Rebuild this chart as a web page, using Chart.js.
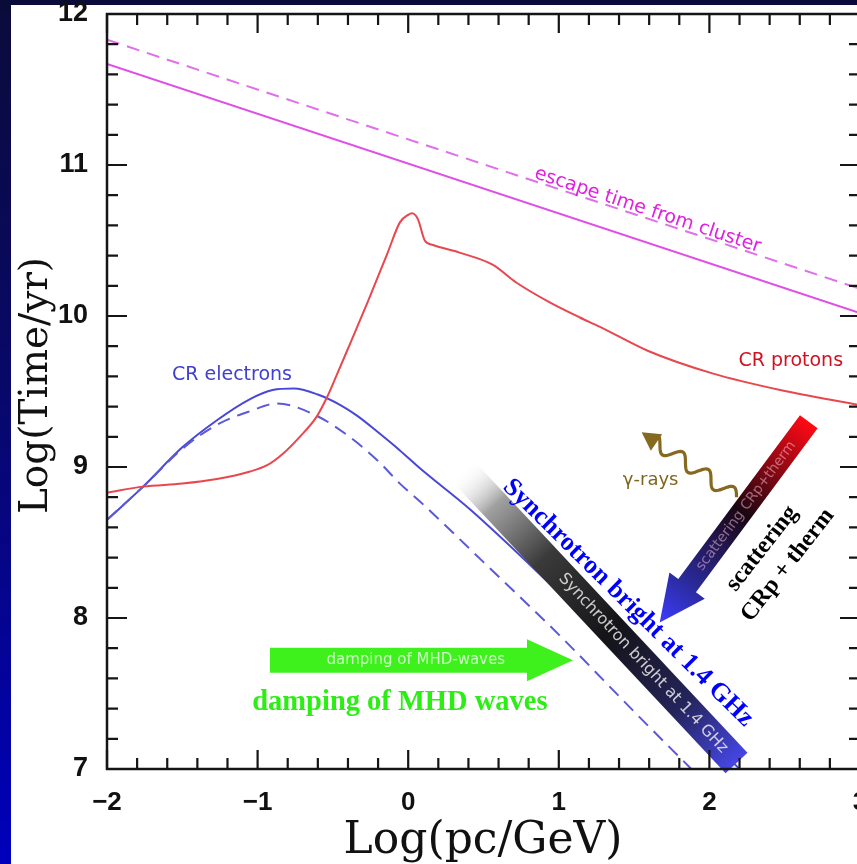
<!DOCTYPE html>
<html>
<head>
<meta charset="utf-8">
<script src="https://cdn.jsdelivr.net/npm/chart.js@4.4.1/dist/chart.umd.min.js"></script>
<style>
  html, body { margin: 0; padding: 0; overflow: hidden; }
  body {
    width: 857px; height: 864px;
    background: linear-gradient(to bottom, #0b0b3a 0%, #08086a 45%, #0000bc 100%);
  }
  #chart { position: absolute; left: 0; top: 0; }
</style>
</head>
<body>
<canvas id="chart" width="875" height="864"></canvas>
<script>
// ---- data ----
const escapeX = [-2, 3];
const escapeSolidY = [11.67, 10.02];
const escapeDashedY = [11.83, 10.18];

const protonX = [-2.0, -1.76, -1.5, -1.27, -1.05, -0.94, -0.83, -0.72, -0.61, -0.54, -0.47, -0.41, -0.27, -0.14, -0.055, 0.0, 0.025, 0.065, 0.11, 0.165, 0.34, 0.56, 0.72, 0.94, 1.14, 1.27, 1.59, 2.02, 2.47, 3.0];
const protonY = [8.83, 8.87, 8.89, 8.92, 8.97, 9.01, 9.09, 9.2, 9.33, 9.46, 9.62, 9.76, 10.09, 10.41, 10.62, 10.67, 10.68, 10.64, 10.5, 10.47, 10.42, 10.34, 10.22, 10.09, 9.99, 9.93, 9.77, 9.62, 9.51, 9.41];

const electronX = [-2.0, -1.76, -1.5, -1.27, -1.05, -0.9, -0.76, -0.6, -0.45, -0.34, -0.2, -0.055, 0.08, 0.41, 1.0, 1.5, 2.0, 2.2];
const electronY = [8.65, 8.87, 9.13, 9.31, 9.45, 9.51, 9.52, 9.48, 9.41, 9.34, 9.23, 9.11, 8.99, 8.72, 8.17, 7.69, 7.2, 7.0];

const electronDashX = [-2.0, -1.76, -1.5, -1.27, -1.05, -0.87, -0.61, -0.39, -0.2, -0.055, 0.08, 0.5, 1.0, 1.5, 1.88];
const electronDashY = [8.65, 8.87, 9.12, 9.28, 9.37, 9.42, 9.34, 9.2, 9.04, 8.89, 8.77, 8.37, 7.89, 7.38, 7.0];

const xTicks = [-2, -1, 0, 1, 2, 3];
const yTicks = [7, 8, 9, 10, 11, 12];
const xTitle = 'Log(pc/GeV)';
const yTitle = 'Log(Time/yr)';

function pts(xs, ys) {
    return xs.map((x, i) => ({ x, y: ys[i] }));
}

const serif = '"DejaVu Serif", serif';
const sans = '"DejaVu Sans", sans-serif';
const times = '"Liberation Serif", "Times New Roman", serif';

// ---- frame, inward ticks, titles and the drawn-in annotations ----
const figurePlugin = {
    id: 'figure',
    beforeDraw(chart) {
        const ctx = chart.ctx;
        ctx.save();
        ctx.fillStyle = '#ffffff';
        ctx.fillRect(11, 5, chart.width, chart.height);
        ctx.restore();
    },
    afterDatasetsDraw(chart) {
        const ctx = chart.ctx;
        const xs = chart.scales.x, ys = chart.scales.y;
        const X = v => xs.getPixelForValue(v);
        const Y = v => ys.getPixelForValue(v);
        const a = chart.chartArea;

        // synchrotron band
        drawBand(ctx, X(0.357), Y(8.98), X(2.18), Y(7.04), 30);

        // green arrow
        const gy = Y(7.72);
        drawArrow(ctx, X(-0.918), gy, X(1.094), gy, 25, 42, 46, '#3ef01c', null);
        ctx.save();
        ctx.fillStyle = 'rgba(255,255,255,0.75)';
        ctx.font = '15px ' + sans;
        ctx.textAlign = 'center';
        ctx.textBaseline = 'middle';
        ctx.fillText('damping of MHD-waves', X(0.05), gy);
        ctx.restore();

        // scattering arrow
        const sx0 = X(2.66), sy0 = Y(9.30), sx1 = X(1.67), sy1 = Y(7.97);
        const sg = ctx.createLinearGradient(sx0, sy0, sx1, sy1);
        sg.addColorStop(0, '#ff0a14');
        sg.addColorStop(0.45, '#1a0612');
        sg.addColorStop(0.8, '#2a2a9a');
        sg.addColorStop(1, '#3c3cff');
        drawArrow(ctx, sx0, sy0, sx1, sy1, 22, 44, 46, null, sg);
        ctx.save();
        const sa = Math.atan2(sy0 - sy1, sx0 - sx1);
        ctx.translate(sx0 + (sx1 - sx0) * 0.42, sy0 + (sy1 - sy0) * 0.42);
        ctx.rotate(sa);
        ctx.fillStyle = 'rgba(255,200,220,0.5)';
        ctx.font = '14px ' + sans;
        ctx.textAlign = 'center';
        ctx.textBaseline = 'middle';
        ctx.fillText('scattering CRp+therm', 0, 0);
        ctx.restore();

        // gamma-ray wiggle
        drawWiggle(ctx, X(2.18), Y(8.80), X(1.55), Y(9.23), '#85691e');
        rotText(ctx, '\u03b3-rays', X(1.61), Y(8.91), 0, '18px ' + sans, '#7f651e');

        // labels
        const escAngle = Math.atan2(Y(escapeSolidY[1]) - Y(escapeSolidY[0]), X(escapeX[1]) - X(escapeX[0]));
        rotText(ctx, 'escape time from cluster', X(1.59), Y(10.70), escAngle, '19px ' + sans, '#e020e0');
        rotText(ctx, 'CR protons', X(2.54), Y(9.70), 0, '19px ' + sans, '#d41020');
        rotText(ctx, 'CR electrons', X(-1.17), Y(9.61), 0, '19px ' + sans, '#4040d0');
        rotText(ctx, 'Synchrotron bright at 1.4 GHz', X(1.46), Y(8.10), 44.6 * Math.PI / 180, 'bold 26px ' + times, '#0000ff');
        rotText(ctx, 'scattering', X(2.35), Y(8.46), -52 * Math.PI / 180, 'bold 24px ' + times, '#000000');
        rotText(ctx, 'CRp + therm', X(2.52), Y(8.35), -52 * Math.PI / 180, 'bold 24px ' + times, '#000000');
        rotText(ctx, 'damping of MHD waves', X(-0.055), Y(7.44), 0, 'bold 28.5px ' + times, '#2cee14');

        // frame with inward ticks
        ctx.save();
        ctx.strokeStyle = '#151515';
        ctx.lineWidth = 2.5;
        ctx.strokeRect(a.left, a.top, a.right - a.left, a.bottom - a.top);
        ctx.lineWidth = 2.2;
        ctx.beginPath();
        for (let i = 0; i <= 25; i++) {
            const v = -2 + i * 0.2;
            const p = X(v);
            const len = i % 5 === 0 ? 19 : 11;
            ctx.moveTo(p, a.bottom); ctx.lineTo(p, a.bottom - len);
            ctx.moveTo(p, a.top); ctx.lineTo(p, a.top + len);
        }
        for (let i = 0; i <= 25; i++) {
            const v = 7 + i * 0.2;
            const p = Y(v);
            const len = i % 5 === 0 ? 20 : 11;
            ctx.moveTo(a.left, p); ctx.lineTo(a.left + len, p);
            ctx.moveTo(a.right, p); ctx.lineTo(a.right - len, p);
        }
        ctx.stroke();
        ctx.restore();

        // axis titles
        ctx.save();
        ctx.fillStyle = '#111';
        ctx.font = '44px ' + serif;
        ctx.textAlign = 'center';
        ctx.textBaseline = 'alphabetic';
        ctx.fillText(xTitle, 483, 853);
        ctx.translate(47, (a.top + a.bottom) / 2 - 6);
        ctx.rotate(-Math.PI / 2);
        ctx.font = '39px ' + serif;
        ctx.fillText(yTitle, 0, 0);
        ctx.restore();
    }
};

function rotText(ctx, text, x, y, angle, font, color) {
    ctx.save();
    ctx.translate(x, y);
    ctx.rotate(angle);
    ctx.font = font;
    ctx.fillStyle = color;
    ctx.textAlign = 'center';
    ctx.textBaseline = 'middle';
    ctx.fillText(text, 0, 0);
    ctx.restore();
}

function drawBand(ctx, x0, y0, x1, y1, w) {
    const ang = Math.atan2(y1 - y0, x1 - x0);
    const len = Math.hypot(x1 - x0, y1 - y0);
    ctx.save();
    ctx.translate(x0, y0);
    ctx.rotate(ang);
    const g = ctx.createLinearGradient(0, 0, len, 0);
    g.addColorStop(0, 'rgba(255,255,255,0)');
    g.addColorStop(0.12, 'rgba(150,150,150,0.9)');
    g.addColorStop(0.3, '#3a3a3a');
    g.addColorStop(0.55, '#141418');
    g.addColorStop(0.8, '#24245a');
    g.addColorStop(1, '#4646e6');
    ctx.fillStyle = g;
    ctx.fillRect(0, -w / 2, len, w);
    ctx.fillStyle = 'rgba(235,235,235,0.85)';
    ctx.font = '16px ' + sans;
    ctx.textAlign = 'center';
    ctx.textBaseline = 'middle';
    ctx.fillText('Synchrotron bright at 1.4 GHz', len * 0.66, 0);
    ctx.restore();
}

function drawArrow(ctx, x0, y0, x1, y1, shaftW, headW, headL, color, grad) {
    const ang = Math.atan2(y1 - y0, x1 - x0);
    const len = Math.hypot(x1 - x0, y1 - y0);
    const path = new Path2D();
    path.moveTo(0, -shaftW / 2);
    path.lineTo(len - headL, -shaftW / 2);
    path.lineTo(len - headL, -headW / 2);
    path.lineTo(len, 0);
    path.lineTo(len - headL, headW / 2);
    path.lineTo(len - headL, shaftW / 2);
    path.lineTo(0, shaftW / 2);
    path.closePath();
    // place the arrow in page coordinates so a page-space gradient lines up
    const m = new DOMMatrix().translate(x0, y0).rotate(ang * 180 / Math.PI);
    const placed = new Path2D();
    placed.addPath(path, m);
    ctx.save();
    ctx.fillStyle = grad || color;
    ctx.fill(placed);
    ctx.restore();
}

function drawWiggle(ctx, x0, y0, x1, y1, color) {
    const ang = Math.atan2(y1 - y0, x1 - x0);
    const len = Math.hypot(x1 - x0, y1 - y0);
    const headL = 18;
    ctx.save();
    ctx.translate(x0, y0);
    ctx.rotate(ang);
    ctx.strokeStyle = color;
    ctx.lineWidth = 3.2;
    ctx.beginPath();
    const wl = len - headL + 2;
    for (let s = 0; s <= wl; s += 1) {
        const yy = 7 * Math.sin(s / wl * Math.PI * 2 * 3.2);
        if (s === 0) ctx.moveTo(s, yy); else ctx.lineTo(s, yy);
    }
    ctx.stroke();
    ctx.fillStyle = color;
    ctx.beginPath();
    ctx.moveTo(len, 0);
    ctx.lineTo(len - headL, -10);
    ctx.lineTo(len - headL, 10);
    ctx.closePath();
    ctx.fill();
    ctx.restore();
}

// drop the label overhang Chart.js reserves, so the plot box sits where the figure has it
function noLabelPadding(s) {
    s.paddingLeft = 0; s.paddingRight = 0; s.paddingTop = 0; s.paddingBottom = 0;
}

const ctxEl = document.getElementById('chart');
new Chart(ctxEl, {
    type: 'scatter',
    data: {
        datasets: [
            { label: 'escape (dashed)', data: pts(escapeX, escapeDashedY), borderColor: '#e070ea', borderWidth: 2, borderDash: [13, 8] },
            { label: 'escape', data: pts(escapeX, escapeSolidY), borderColor: '#e04ee8', borderWidth: 2 },
            { label: 'CR protons', data: pts(protonX, protonY), borderColor: '#e8474e', borderWidth: 2, cubicInterpolationMode: 'monotone' },
            { label: 'CR electrons (dashed)', data: pts(electronDashX, electronDashY), borderColor: '#5a5ad8', borderWidth: 2, borderDash: [13, 8], cubicInterpolationMode: 'monotone' },
            { label: 'CR electrons', data: pts(electronX, electronY), borderColor: '#4848d8', borderWidth: 2, cubicInterpolationMode: 'monotone' }
        ].map(d => Object.assign({ showLine: true, pointRadius: 0, fill: false }, d))
    },
    options: {
        responsive: false,
        animation: false,
        devicePixelRatio: 1,
        layout: { padding: { left: 0, top: 14, right: 15, bottom: 0 } },
        plugins: { legend: { display: false }, tooltip: { enabled: false } },
        scales: {
            x: {
                type: 'linear', min: -2, max: 3,
                afterFit: s => { s.height = 95; noLabelPadding(s); },
                afterBuildTicks: s => { s.ticks = xTicks.map(v => ({ value: v })); },
                grid: { display: false, drawTicks: false },
                border: { display: false },
                ticks: {
                    autoSkip: false, maxRotation: 0, padding: 18, color: '#111',
                    font: { family: '"Liberation Sans", Arial, sans-serif', weight: 'bold', size: 26 },
                    callback: v => (v < 0 ? '\u2212' + Math.abs(v) : String(v))
                }
            },
            y: {
                type: 'linear', min: 7, max: 12,
                afterFit: s => { s.width = 107; noLabelPadding(s); },
                afterBuildTicks: s => { s.ticks = yTicks.map(v => ({ value: v })); },
                grid: { display: false, drawTicks: false },
                border: { display: false },
                ticks: {
                    autoSkip: false, padding: 19, color: '#111',
                    font: { family: '"Liberation Sans", Arial, sans-serif', weight: 'bold', size: 27 }
                }
            }
        }
    },
    plugins: [figurePlugin]
});
</script>
</body>
</html>
